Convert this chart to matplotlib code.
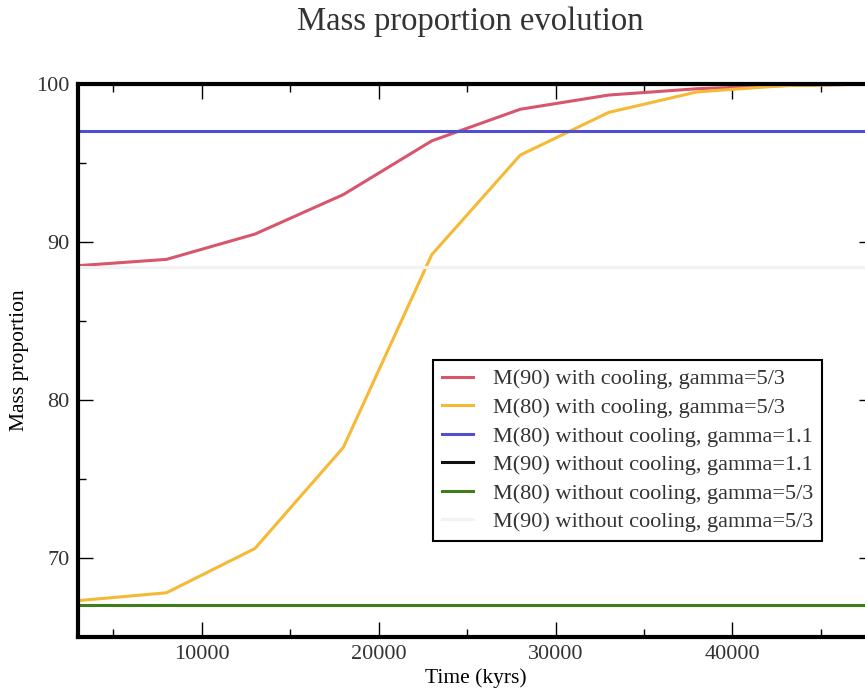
import matplotlib
matplotlib.use("Agg")
import matplotlib.pyplot as plt
from matplotlib.ticker import MultipleLocator

plt.rcParams['font.family'] = ['Liberation Serif', 'DejaVu Serif']
plt.rcParams['text.color'] = '#333333'
plt.rcParams['xtick.labelcolor'] = '#333333'
plt.rcParams['ytick.labelcolor'] = '#333333'

# time in kyrs
time = [3000, 8000, 13000, 18000, 23000, 28000, 33000, 38000, 43000, 48000]

m90_cool = [88.5, 88.9, 90.5, 93.0, 96.4, 98.4, 99.3, 99.7, 99.9, 100.0]
m80_cool = [67.3, 67.8, 70.6, 77.0, 89.2, 95.5, 98.2, 99.5, 99.9, 100.0]
m80_nocool_g11 = [97.0] * len(time)
m90_nocool_g11 = [100.0] * len(time)
m80_nocool_g53 = [67.0] * len(time)
m90_nocool_g53 = [88.4] * len(time)

labels = ['M(90) with cooling, gamma=5/3',
          'M(80) with cooling, gamma=5/3',
          'M(80) without cooling, gamma=1.1',
          'M(90) without cooling, gamma=1.1',
          'M(80) without cooling, gamma=5/3',
          'M(90) without cooling, gamma=5/3']
colors = ['#d8566c', '#f6b935', '#4f4fd0', '#111111', '#3f7d1c', '#f2f2f2']
series = [m90_cool, m80_cool, m80_nocool_g11, m90_nocool_g11, m80_nocool_g53, m90_nocool_g53]

fig = plt.figure(figsize=(8.65, 6.93), dpi=100)
ax = fig.add_axes([0.0902, 0.0808, 0.9202, 0.798])

for y, c, lab in zip(series, colors, labels):
    ax.plot(time, y, color=c, linewidth=2.2, label=lab)

ax.set_xlim(3000, 48000)
ax.set_ylim(65, 100)
ax.xaxis.set_major_locator(MultipleLocator(10000))
ax.xaxis.set_minor_locator(MultipleLocator(5000))
ax.yaxis.set_major_locator(MultipleLocator(10))
ax.yaxis.set_minor_locator(MultipleLocator(5))
ax.tick_params(which='both', direction='in', top=True, right=True,
               labelsize=16, width=1, pad=6)
ax.tick_params(which='major', length=11)
ax.tick_params(which='minor', length=6)
for s in ax.spines.values():
    s.set_linewidth(3)

ax.set_xlabel('Time (kyrs)', fontsize=15.5, labelpad=3)
ax.set_ylabel('Mass proportion', fontsize=15.5, labelpad=5)
fig.suptitle('Mass proportion evolution', fontsize=23.5, x=0.544, y=0.99)

leg = ax.legend(loc='upper left', bbox_to_anchor=(0.446, 0.501), borderaxespad=0,
                fontsize=16, fancybox=False, framealpha=1, edgecolor='black',
                handlelength=1.4, handletextpad=0.9, labelspacing=0.36, borderpad=0.4)
leg.get_frame().set_linewidth(1.5)

fig.savefig('out.png', dpi=100)
